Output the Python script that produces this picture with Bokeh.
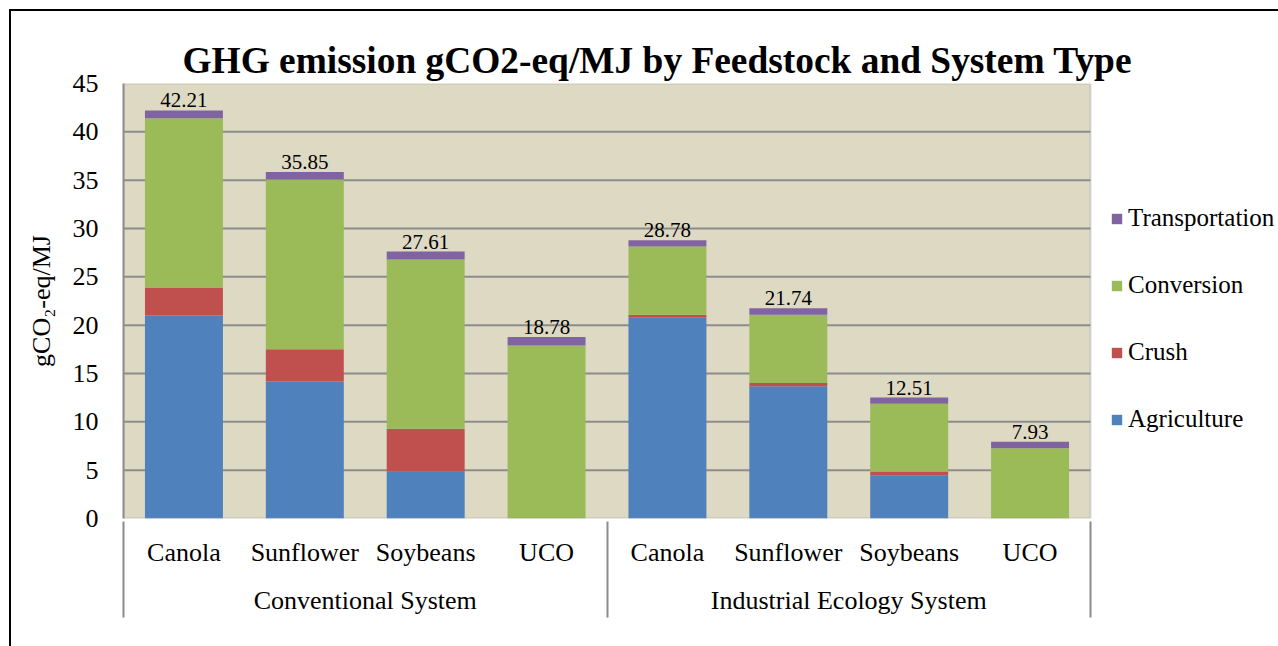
from bokeh.plotting import figure
from bokeh.models import (ColumnDataSource, Range1d, LinearAxis, BoxAnnotation,
                          SingleIntervalTicker, FixedTicker, Legend, LegendItem, LabelSet)
from bokeh.core.properties import value
from bokeh.embed import file_html
from bokeh.resources import INLINE

# ---------------- data ----------------
title_text = "GHG emission gCO2-eq/MJ by Feedstock and System Type"
y_label = "gCO\u2082-eq/MJ"
groups = ["Conventional System", "Industrial Ecology System"]
crops = ["Canola", "Sunflower", "Soybeans", "UCO"]
stages = ["Agriculture", "Crush", "Conversion", "Transportation"]
agriculture = [21.00, 14.17, 4.83, 0.00, 20.76, 13.69, 4.48, 0.00]
crush = [2.90, 3.35, 4.45, 0.00, 0.31, 0.34, 0.38, 0.00]
conversion = [17.50, 17.55, 17.52, 17.90, 7.07, 7.04, 7.00, 7.27]
transportation = [0.81, 0.78, 0.81, 0.88, 0.64, 0.67, 0.65, 0.66]
totals = [42.21, 35.85, 27.61, 18.78, 28.78, 21.74, 12.51, 7.93]
y_max = 45
y_step = 5

# ---------------- layout / styling ----------------
FONT = "Liberation Serif"
GRAY = "#8C8C8C"
TAN = "#DDD9C3"
colors = ["#4F81BD", "#C0504D", "#9BBB59", "#8064A2"]
W, H = 1278, 646
LEFT, TOP, BOTTOM = 123, 83, 128
PLOT_W = 967                     # width of the shaded plot area, px

n_bars = len(groups) * len(crops)
xs = [i + 0.5 for i in range(n_bars)]                      # bar slots
bar_names = [c for g in groups for c in crops]
group_centers = [len(crops) * (g + 0.5) for g in range(len(groups))]
group_edges = [len(crops) * g for g in range(len(groups) + 1)]
x_end = n_bars * (W - LEFT) / PLOT_W                       # frame extends under the legend

src = ColumnDataSource(dict(
    x=xs,
    Agriculture=agriculture, Crush=crush, Conversion=conversion, Transportation=transportation,
    total=totals, label=[f"{t:.2f}" for t in totals],
))

p = figure(
    x_range=Range1d(0, x_end), y_range=Range1d(0, y_max),
    width=W, height=H, output_backend="svg", toolbar_location=None,
    x_axis_location=None,
    min_border_left=LEFT, min_border_right=0, min_border_top=TOP, min_border_bottom=BOTTOM,
    background_fill_color="white", border_fill_color=None, outline_line_color=None,
)
# thin black chart-area frame (left and top edges visible in the reference)
p.styles = {"box-shadow": "inset 9px 9px 0 0 #ffffff, inset 11px 11px 0 0 #000000"}

# shaded plot area and its border
p.add_layout(BoxAnnotation(left=0, right=n_bars, bottom=0, top=y_max,
                           fill_color=TAN, fill_alpha=1, line_color=None, level="image"))
p.add_layout(BoxAnnotation(left=0, right=n_bars, bottom=0, top=y_max,
                           fill_alpha=0, line_color=GRAY, line_width=2, level="annotation"))

# horizontal gridlines limited to the plot area
grid_y = list(range(y_step, y_max, y_step))
p.segment(x0=[0] * len(grid_y), x1=[n_bars] * len(grid_y), y0=grid_y, y1=grid_y,
          line_color=GRAY, line_width=2)
p.xgrid.visible = False
p.ygrid.visible = False

renderers = p.vbar_stack(stages, x="x", width=0.645, color=colors, source=src, line_color=None)

# y axis
yax = p.yaxis[0]
yax.ticker = SingleIntervalTicker(interval=y_step)
yax.minor_tick_line_color = None
yax.major_tick_in = 0
yax.major_tick_out = 0
yax.major_label_standoff = 21
yax.major_label_text_font = FONT
yax.major_label_text_font_size = "26px"
yax.major_label_text_color = "black"
yax.axis_line_color = GRAY
yax.axis_line_width = 2
yax.axis_label = y_label
yax.axis_label_text_font = FONT
yax.axis_label_text_font_size = "26px"
yax.axis_label_text_font_style = "normal"
yax.axis_label_text_color = "black"
yax.axis_label_standoff = 14

# x axes: crop row, group row, group separators
ax_a = LinearAxis(
    ticker=FixedTicker(ticks=xs, minor_ticks=[]),
    major_label_overrides={x: n for x, n in zip(xs, bar_names)},
    major_label_text_font=FONT, major_label_text_font_size="26px", major_label_text_color="black",
    major_label_standoff=19, major_tick_in=0, major_tick_out=0,
    minor_tick_line_color=None, axis_line_color=None,
)
p.add_layout(ax_a, "below")
ax_b = LinearAxis(
    ticker=FixedTicker(ticks=group_centers, minor_ticks=[]),
    major_label_overrides={x: g for x, g in zip(group_centers, groups)},
    major_label_text_font=FONT, major_label_text_font_size="26px", major_label_text_color="black",
    major_label_standoff=16, major_tick_in=0, major_tick_out=0,
    minor_tick_line_color=None, axis_line_color=None,
)
p.add_layout(ax_b, "below")
ax_c = LinearAxis(
    ticker=FixedTicker(ticks=group_edges, minor_ticks=[]),
    major_label_overrides={x: "" for x in group_edges},
    major_tick_in=96, major_tick_out=0,
    major_tick_line_color=GRAY, major_tick_line_width=2,
    minor_tick_line_color=None, axis_line_color=None,
    major_label_text_font_size="1px", major_label_text_alpha=0, major_label_standoff=0,
)
p.add_layout(ax_c, "below")

# data labels
labels = LabelSet(x="x", y="total", text="label", source=src,
                  text_align="center", text_baseline="alphabetic", y_offset=3,
                  text_font=value(FONT), text_font_size=value("21px"), text_color=value("black"))
p.add_layout(labels)

# legend (inside the frame, to the right of the shaded area)
items = [LegendItem(label=s, renderers=[r]) for s, r in zip(stages, renderers)][::-1]
legend = Legend(
    items=items, location=(PLOT_W + 20, 84), orientation="vertical",
    glyph_width=13, glyph_height=13, label_height=30, label_standoff=5,
    spacing=37, padding=0, margin=0,
    border_line_color=None, background_fill_alpha=0,
    label_text_font=FONT, label_text_font_size="25px", label_text_color="black",
)
p.add_layout(legend)

# title
p.title.text = title_text
p.title.text_font = FONT
p.title.text_font_size = "37.4px"
p.title.text_font_style = "bold"
p.title.text_color = "black"
p.title.align = "left"
p.title.offset = 59
p.title.standoff = 5

open("out.html", "w").write(file_html(p, INLINE))
